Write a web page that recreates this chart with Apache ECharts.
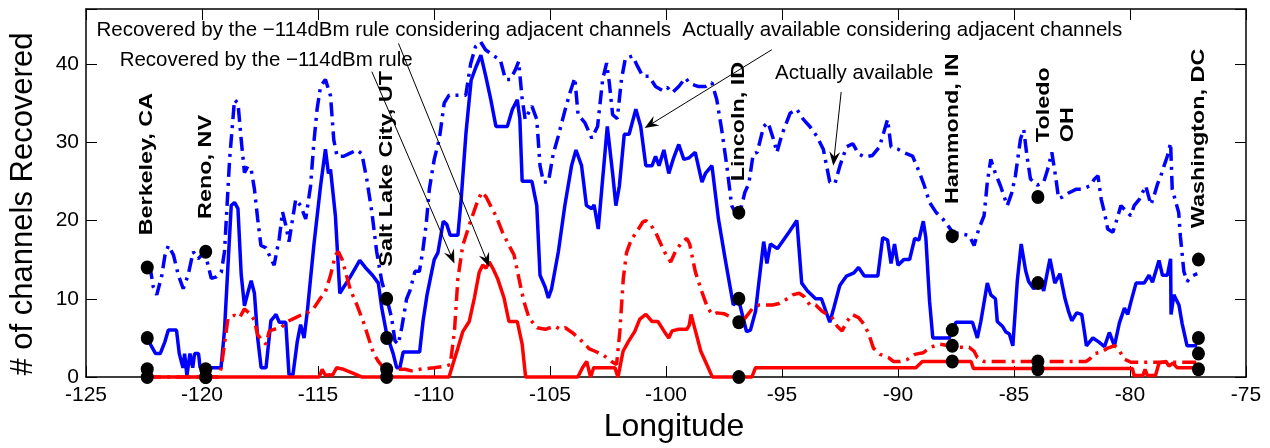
<!DOCTYPE html>
<html><head><meta charset="utf-8">
<script src="https://cdn.jsdelivr.net/npm/echarts@6/dist/echarts.min.js"></script>
<style>html,body{margin:0;padding:0;background:#fff}#c{width:1270px;height:448px}</style>
</head><body><div id="c"></div>
<script>
// ---------------- data (longitude, number of channels) ----------------
const xTicks = [-125, -120, -115, -110, -105, -100, -95, -90, -85, -80, -75];
const yTicks = [0, 10, 20, 30, 40];

// "Actually available" (blue dash-dot)
const availData = [[-122.36,14],[-122.23,13.9],[-122.1,11.5],[-121.95,10.5],[-121.73,13],[-121.6,15.5],[-121.45,16.8],[-121.23,15.6],[-121.02,13],[-120.81,11.3],[-120.6,13],[-120.38,16],[-120.17,15.1],[-119.88,16],[-119.6,12.6],[-119.38,12.8],[-119.17,13.4],[-119.03,16],[-118.81,27.8],[-118.6,35.4],[-118.45,35],[-118.31,30.3],[-118.17,26.1],[-118.03,26.9],[-117.88,26.5],[-117.74,24],[-117.6,20.2],[-117.46,16.8],[-117.24,16.5],[-117.03,15.1],[-116.89,14.3],[-116.67,17.7],[-116.53,21.1],[-116.39,19.4],[-116.25,17.3],[-115.96,22.7],[-115.75,21.9],[-115.53,20.2],[-115.32,24.4],[-115.18,29.9],[-115.04,34.2],[-114.89,37.1],[-114.68,38],[-114.46,35.9],[-114.32,30.3],[-114.18,28.2],[-113.89,28.2],[-113.61,28.6],[-113.32,29],[-113.11,28.5],[-112.9,25.3],[-112.68,21.1],[-112.47,16],[-112.25,12.2],[-112.04,10.1],[-111.83,7.6],[-111.68,4.6],[-111.54,4.2],[-111.39,6.3],[-111.18,10],[-111.04,11],[-110.82,13.5],[-110.63,13.5],[-110.49,16],[-110.34,19.4],[-110.2,24],[-109.99,27.8],[-109.77,30.4],[-109.56,35],[-109.35,36],[-108.63,36],[-108.42,40],[-108.21,42.2],[-107.99,42.8],[-107.78,41.8],[-107.42,41],[-107.14,40.5],[-106.92,38],[-106.71,38],[-106.5,39.2],[-106.35,40.3],[-106.21,35.8],[-106.07,32.9],[-105.78,34.6],[-105.57,32.9],[-105.43,27],[-105.28,24.9],[-105.07,24.9],[-104.86,28.5],[-104.64,30.8],[-104.36,34],[-104.13,36.4],[-103.93,38.2],[-103.79,33.5],[-103.5,32.5],[-103.2,30.5],[-102.95,32],[-102.73,38],[-102.56,40.1],[-102.44,37.5],[-102.3,33.5],[-102.1,33],[-101.92,38],[-101.75,40.7],[-101.44,41],[-101.23,39.7],[-101.0,38.4],[-100.73,38.4],[-100.45,37.1],[-100.16,36.6],[-99.95,37],[-99.73,36.3],[-99.45,37.1],[-99.16,38.2],[-98.98,37.5],[-98.6,37.1],[-98.3,37.1],[-98.02,37.6],[-97.81,35.4],[-97.6,31.6],[-97.38,27],[-97.17,21.9],[-96.95,20.6],[-96.74,21.9],[-96.6,23.6],[-96.43,24.7],[-96.24,28.5],[-96.07,28.7],[-95.79,32],[-95.6,32.5],[-95.36,30.3],[-95.22,28.7],[-95.0,31],[-94.65,33.7],[-94.36,34.2],[-94.08,32.9],[-93.8,32],[-93.51,30.8],[-93.22,29.1],[-92.94,24.9],[-92.72,24.7],[-92.5,27],[-92.22,29.4],[-91.95,29.8],[-91.7,28.5],[-91.44,28.1],[-91.1,28.3],[-90.8,29.4],[-90.59,31.5],[-90.45,32.9],[-90.3,29.4],[-90.0,29.1],[-89.7,28.6],[-89.37,28.2],[-89.07,26.1],[-88.86,24.4],[-88.64,22.3],[-88.35,21],[-88.07,20.2],[-87.64,18.5],[-87.3,18.3],[-86.93,18.1],[-86.72,16.8],[-86.52,18.9],[-86.29,20.6],[-86.15,24.9],[-86.0,27.8],[-85.8,26],[-85.58,24.4],[-85.29,21.9],[-85.1,23.5],[-84.94,25.7],[-84.72,30.4],[-84.58,31.6],[-84.44,28.2],[-84.29,25.3],[-84.0,24.5],[-83.72,24.9],[-83.55,26.5],[-83.37,28.7],[-83.2,25.5],[-83.08,22.8],[-82.9,23],[-82.65,23.5],[-82.31,24],[-82.08,24],[-81.74,24.4],[-81.53,25.3],[-81.38,25.7],[-81.24,22.7],[-81.1,21],[-80.96,18.9],[-80.74,18.5],[-80.6,19.8],[-80.39,21.9],[-80.17,21.2],[-79.96,20.6],[-79.82,21.9],[-79.6,22.7],[-79.32,24.4],[-79.1,22],[-78.96,23.2],[-78.82,24.6],[-78.67,25.7],[-78.53,27],[-78.39,28.2],[-78.25,29.9],[-78.18,24],[-78.04,22.5],[-77.9,21],[-77.83,18],[-77.76,16],[-77.68,13.5],[-77.54,12.2],[-77.33,12.9],[-77.1,13.2]];

// "Actually available considering adjacent channels" (blue solid)
const availAdjData = [[-122.36,5],[-122.23,4.2],[-122.0,3.0],[-121.8,3.0],[-121.6,4.5],[-121.45,6],[-121.1,6],[-120.98,3],[-120.82,1.2],[-120.75,3],[-120.65,0.2],[-120.52,3],[-120.4,1.2],[-120.32,3],[-120.15,3],[-120.08,1.2],[-119.18,1.2],[-119.03,6],[-118.88,14.3],[-118.74,21.9],[-118.6,22.3],[-118.45,21.5],[-118.31,13.1],[-118.17,9.1],[-118.03,10.7],[-117.88,12.3],[-117.74,10.7],[-117.6,5],[-117.45,1.2],[-117.24,1.2],[-117.03,7.2],[-116.89,7.7],[-116.81,8],[-116.67,7],[-116.39,7],[-116.25,0.3],[-116.08,0.3],[-115.89,4.6],[-115.75,6.7],[-115.6,5],[-115.46,8.4],[-115.18,16.8],[-114.89,24.4],[-114.68,29.1],[-114.55,26],[-114.46,26.5],[-114.25,20.6],[-114.06,10.7],[-113.61,12.8],[-113.2,14.9],[-112.96,14],[-112.65,13],[-112.4,12],[-112.25,8.8],[-112.04,5.5],[-111.76,3],[-111.61,1.2],[-111.47,1.2],[-111.33,3.2],[-110.62,3.2],[-110.47,7.2],[-110.3,10.5],[-110.13,13],[-109.99,15],[-109.83,15.9],[-109.6,19.9],[-109.45,19.5],[-109.3,18.1],[-108.97,18.1],[-108.83,22.7],[-108.62,31.2],[-108.4,37.9],[-108.19,39.6],[-107.98,41.1],[-107.76,38.3],[-107.55,35.4],[-107.33,32],[-106.84,32],[-106.62,34.2],[-106.41,35.4],[-106.3,33],[-106.2,25],[-105.78,25],[-105.57,21.9],[-105.43,13],[-105.21,11.5],[-105.07,10.1],[-104.93,11.3],[-104.64,16],[-104.36,21.9],[-104.07,27],[-103.88,29],[-103.64,27],[-103.43,21.9],[-103.2,21.5],[-103.1,22],[-102.92,18.9],[-102.73,25.3],[-102.53,32],[-102.3,26],[-102.16,21.9],[-102.01,24.4],[-101.8,31],[-101.59,31],[-101.3,34.2],[-101.09,32],[-100.87,27],[-100.6,27],[-100.45,28.2],[-100.3,27],[-100.09,29],[-99.88,26],[-99.67,28],[-99.45,29.7],[-99.23,27.8],[-99.0,28],[-98.74,28.7],[-98.45,24.9],[-98.3,26],[-98.02,27],[-97.74,20.2],[-97.45,15.1],[-97.1,9.2],[-96.88,10],[-96.67,7.5],[-96.53,5.8],[-96.36,6],[-96.14,8.4],[-96.0,12],[-95.79,17.3],[-95.65,14.5],[-95.5,17],[-95.2,16.4],[-94.7,18.5],[-94.36,20],[-94.15,12],[-93.9,11],[-93.55,10],[-93.3,10],[-92.94,7],[-92.77,8.8],[-92.51,11.7],[-92.22,12.9],[-91.9,13.3],[-91.7,14],[-91.45,12.9],[-90.87,12.9],[-90.66,17.8],[-90.45,17.5],[-90.3,14.5],[-90.15,17],[-90.0,14.3],[-89.75,15],[-89.5,15],[-89.28,17.7],[-89.1,17.5],[-88.91,19.9],[-88.8,17.8],[-88.64,9.7],[-88.5,5],[-87.79,5],[-87.5,7],[-86.79,7],[-86.58,5],[-86.43,7.1],[-86.15,12],[-86.0,10.5],[-85.8,10],[-85.72,7.1],[-85.5,6.5],[-85.36,5.8],[-85.2,5.5],[-85.05,4],[-84.86,12.2],[-84.69,17],[-84.5,13.6],[-84.37,12.2],[-84.15,11.3],[-83.85,12],[-83.72,11],[-83.45,15.1],[-83.24,12],[-83.02,13.2],[-82.8,10],[-82.65,8.4],[-82.51,7.2],[-82.3,8.2],[-82.08,8],[-81.95,5.5],[-81.88,4],[-81.6,5],[-81.35,4.5],[-81.1,3.9],[-80.89,5.7],[-80.67,4],[-80.46,6.9],[-80.24,8.8],[-80.1,8],[-79.96,9.6],[-79.74,12],[-79.39,12],[-79.18,13],[-79.03,12.1],[-78.75,14.9],[-78.6,13],[-78.39,13],[-78.25,15.1],[-78.23,8],[-78.11,10.5],[-77.89,9.2],[-77.75,6.8],[-77.54,4],[-77.1,4]];

// "Recovered by the -114dBm rule" (red dash-dot)
const recData = [[-122.36,0],[-119.3,0],[-119.17,1.2],[-118.88,7.5],[-118.6,7.9],[-118.38,7.6],[-118.17,8.7],[-117.9,8],[-117.75,7.3],[-117.6,5.4],[-117.38,4.6],[-117.24,4.2],[-117.1,5.9],[-116.89,6.1],[-116.6,6.3],[-116.32,7.1],[-116.03,7.5],[-115.75,7.9],[-115.46,8.2],[-115.18,8.8],[-114.89,10.1],[-114.68,10.9],[-114.46,13],[-114.25,15.6],[-114.12,16],[-113.96,15],[-113.82,13.5],[-113.61,11.2],[-113.32,9.2],[-113.04,7],[-112.8,4.8],[-112.6,3],[-112.4,2],[-112.18,1.2],[-111.8,1],[-111.25,1],[-110.97,0.8],[-110.6,1],[-110.0,1.2],[-109.5,1.4],[-109.3,1.6],[-109.12,5.8],[-108.97,12.6],[-108.76,16.8],[-108.48,19.4],[-108.19,21.9],[-107.95,23.6],[-107.75,23],[-107.5,21.5],[-107.33,20.6],[-107.05,18.5],[-106.8,17],[-106.55,15.6],[-106.34,12.6],[-106.13,9.7],[-105.9,7.5],[-105.55,6.3],[-105.2,6.1],[-104.8,6.5],[-104.55,6.1],[-104.34,6.3],[-104.05,5.7],[-103.77,5.0],[-103.5,4.2],[-103.3,3.6],[-103.06,3.3],[-102.7,2.8],[-102.35,2.0],[-102.13,1.6],[-101.99,5.8],[-101.84,12.6],[-101.7,15.9],[-101.49,17.6],[-101.27,18.5],[-101.0,19.8],[-100.87,20],[-100.65,19.4],[-100.45,18.5],[-100.3,17.5],[-100.07,16],[-99.8,14.7],[-99.6,16],[-99.35,17.1],[-99.1,17.7],[-98.98,17],[-98.74,13.5],[-98.47,11],[-98.2,8.8],[-98.0,8],[-97.8,8.2],[-97.5,8.1],[-97.3,7.8],[-96.88,7.3],[-96.6,7.5],[-96.26,8.8],[-95.98,9.2],[-95.4,9.2],[-95.12,9.4],[-94.83,9.9],[-94.55,10.5],[-94.26,10.7],[-94.05,10.3],[-93.8,9.2],[-93.55,9.2],[-93.27,8.4],[-93.05,8.0],[-92.84,7.6],[-92.62,6.5],[-92.41,5.9],[-92.2,7.1],[-91.98,8],[-91.7,7.6],[-91.48,6.8],[-91.27,5.6],[-91.06,3.7],[-90.77,2.9],[-90.41,2.5],[-90.2,2.0],[-89.92,2.0],[-89.63,2.2],[-89.27,2.9],[-88.92,3.1],[-88.6,3.8],[-88.2,4.2],[-87.79,4.0],[-87.5,3.8],[-86.93,3.8],[-86.72,3.3],[-86.58,2.5],[-86.3,2.0],[-81.9,2.0],[-81.74,2.3],[-81.53,3.0],[-81.24,3.2],[-80.96,3.7],[-80.67,4.0],[-80.53,3.7],[-80.24,2.3],[-79.96,1.9],[-77.05,1.9]];

// "Recovered by the -114dBm rule considering adjacent channels" (red solid)
const recAdjData = [[-122.36,0],[-114.95,0],[-114.82,1.0],[-114.68,0.2],[-114.5,0.3],[-114.38,0.2],[-114.2,1.2],[-113.9,1.0],[-113.5,0.5],[-113.1,0],[-109.35,0],[-109.19,1.6],[-108.97,3.7],[-108.76,5.8],[-108.48,7.1],[-108.26,10.1],[-108.05,13.4],[-107.9,14.3],[-107.76,13.9],[-107.62,14.7],[-107.45,13.8],[-107.26,12.6],[-106.98,10.1],[-106.77,7.1],[-106.41,7.1],[-106.2,4.2],[-106.05,0],[-103.8,0],[-103.6,1.2],[-103.42,2],[-103.25,0],[-103.12,1.2],[-102.2,1.2],[-102.07,0],[-101.85,3.3],[-101.63,4.5],[-101.35,5.8],[-101.13,7.4],[-100.87,8.0],[-100.6,7.1],[-100.35,7.1],[-100.09,5.9],[-99.88,5.0],[-99.74,5.9],[-99.45,6.1],[-99.1,6.1],[-99.0,6.6],[-98.92,8.0],[-98.74,6],[-98.5,3.3],[-98.3,2],[-98.0,0],[-96.3,0],[-96.14,1.2],[-89.23,1.2],[-88.95,2.0],[-86.85,2.0],[-86.75,1.1],[-79.9,1.1],[-79.82,0.2],[-79.45,0.2],[-79.35,1],[-79.25,0.2],[-78.9,0.2],[-78.75,1.8],[-78.45,2.0],[-78.32,1.4],[-78.15,1.8],[-77.97,1.2],[-77.05,1.2]];

// cities: longitude and the four marked values (avail, availAdj, rec, recAdj)
const cityNames = ['Berkeley, CA', 'Reno, NV', 'Salt Lake City, UT', 'Lincoln, ID', 'Hammond, IN', 'Toledo\nOH', 'Washington, DC'];
const cityLon = [-122.36, -119.84, -112.04, -96.86, -87.66, -83.97, -77.05];
const cityAvail = [14, 16, 10, 21, 18, 23, 15];
const cityAvailAdj = [5, 1, 5, 10, 6, 12, 5];
const cityRec = [1, 0, 1, 7, 4, 2, 3];
const cityRecAdj = [0, 0, 0, 0, 2, 1, 1];
// city label anchors (start of the vertical text), in data units
const cityLabelLon = [-122.36, -119.84, -112.04, -96.86, -87.62, -83.21, -77.05];
const cityLabelVal = [18.1, 20.2, 14.1, 25.0, 22.1, 30.0, 19.0];

// annotations
const annoTexts = ['Recovered by the \u2212114dBm rule considering adjacent channels', 'Actually available considering adjacent channels', 'Recovered by the \u2212114dBm rule', 'Actually available'];
const annoLon = [-124.55, -99.3, -123.55, -95.3];
const annoVal = [44.26, 44.26, 40.4, 38.8];
const arrowFrom = [[-112.68, 39.0], [-111.53, 42.6], [-95.44, 41.8], [-92.45, 36.4]];
const arrowTo = [[-109.12, 14.5], [-107.62, 14.1], [-100.92, 31.8], [-92.79, 27.0]];

// ---------------- chart ----------------
const FONT = '"Liberation Sans", Arial, Helvetica, sans-serif';
const chart = echarts.init(document.getElementById('c'), null, {renderer: 'canvas'});
const dashDot = [14, 6, 3, 6];
const axisCommon = {
  axisLine: {onZero: false, lineStyle: {color: '#000', width: 1.5}},
  axisTick: {inside: true, length: 11, lineStyle: {color: '#000', width: 1}},
  splitLine: {show: false}
};
const dots = [];
cityLon.forEach((lon, i) => {
  dots.push([lon, cityAvail[i]], [lon, cityAvailAdj[i]], [lon, cityRec[i]], [lon, cityRecAdj[i]]);
});

chart.setOption({
  animation: false,
  backgroundColor: '#fff',
  grid: {left: 77, right: 24, top: 9, bottom: 68},
  xAxis: [
    Object.assign({type: 'value', min: xTicks[0], max: xTicks[xTicks.length - 1], interval: 5, position: 'bottom',
      axisLabel: {color: '#000', fontSize: 21, fontFamily: FONT, margin: 8},
      name: 'Longitude', nameLocation: 'middle', nameGap: 33,
      nameTextStyle: {color: '#000', fontSize: 32, fontFamily: FONT, padding: [0, 0, 0, 16]}}, axisCommon),
    Object.assign({type: 'value', min: xTicks[0], max: xTicks[xTicks.length - 1], interval: 5, position: 'top',
      axisLabel: {show: false}}, axisCommon)
  ],
  yAxis: [
    Object.assign({type: 'value', min: 0, max: 47, interval: 10, position: 'left',
      axisLabel: {color: '#000', fontSize: 21, fontFamily: FONT, margin: 7,
        formatter: v => (yTicks.indexOf(v) >= 0 ? String(v) : '')},
      name: '# of channels Recovered', nameLocation: 'middle', nameRotate: 90, nameGap: 47,
      nameTextStyle: {color: '#000', fontSize: 31, fontFamily: FONT, padding: [0, 22, 0, 0]}}, axisCommon),
    Object.assign({type: 'value', min: 0, max: 47, interval: 10, position: 'right',
      axisLabel: {show: false}}, axisCommon)
  ],
  series: [
    {name: 'Actually available', type: 'line', data: availData, showSymbol: false, clip: false, z: 3,
      lineStyle: {color: '#0000ff', width: 3.5, type: dashDot}},
    {name: 'Actually available considering adjacent channels', type: 'line', data: availAdjData, showSymbol: false, clip: false, z: 3,
      lineStyle: {color: '#0000ff', width: 3.5}},
    {name: 'Recovered by the -114dBm rule', type: 'line', data: recData, showSymbol: false, clip: false, z: 4,
      lineStyle: {color: '#ff0000', width: 3.5, type: dashDot}},
    {name: 'Recovered by the -114dBm rule considering adjacent channels', type: 'line', data: recAdjData, showSymbol: false, clip: false, z: 4,
      lineStyle: {color: '#ff0000', width: 3.5}},
    {name: 'Cities', type: 'scatter', data: dots, symbol: 'circle', symbolSize: [13, 14], z: 6,
      itemStyle: {color: '#000', opacity: 1}}
  ]
});

// ---------------- annotations via the chart's own scales ----------------
function P(lon, v) { return chart.convertToPixel({gridIndex: 0}, [lon, v]); }
const g = [];
annoTexts.forEach((t, i) => {
  const p = P(annoLon[i], annoVal[i]);
  g.push({type: 'text', x: p[0], y: p[1], z: 100,
    style: {text: t, fill: '#000', font: '20.5px ' + FONT, textAlign: 'left', textVerticalAlign: 'middle', align: 'left', verticalAlign: 'middle'}});
});
arrowFrom.forEach((f, i) => {
  const a = P(f[0], f[1]), b = P(arrowTo[i][0], arrowTo[i][1]);
  const dx = b[0] - a[0], dy = b[1] - a[1], len = Math.sqrt(dx * dx + dy * dy);
  const ux = dx / len, uy = dy / len, nx = -uy, ny = ux;
  const L = 14, W = 5.5;
  g.push({type: 'line', z: 100, shape: {x1: a[0], y1: a[1], x2: b[0] - ux * L * 0.6, y2: b[1] - uy * L * 0.6},
    style: {stroke: '#000', lineWidth: 1}});
  g.push({type: 'polygon', z: 100, shape: {points: [
      [b[0], b[1]],
      [b[0] - ux * L + nx * W, b[1] - uy * L + ny * W],
      [b[0] - ux * L * 0.65, b[1] - uy * L * 0.65],
      [b[0] - ux * L - nx * W, b[1] - uy * L - ny * W]]},
    style: {fill: '#000'}});
});
cityNames.forEach((t, i) => {
  const p = P(cityLabelLon[i], cityLabelVal[i]);
  g.push({type: 'text', x: p[0], y: p[1], rotation: Math.PI / 2, scaleX: 1.23, z: 100,
    style: {text: t, fill: '#000', font: 'bold 19px ' + FONT, lineHeight: 24,
      textAlign: 'left', textVerticalAlign: 'middle', align: 'left', verticalAlign: 'middle'}});
});
chart.setOption({graphic: g});
</script>
</body></html>
